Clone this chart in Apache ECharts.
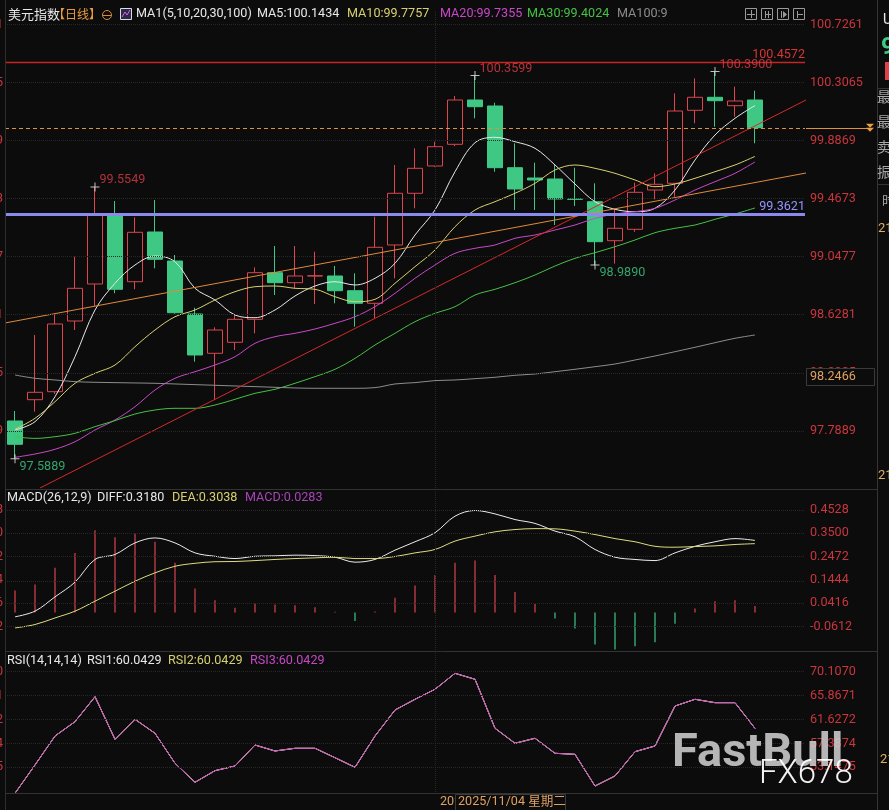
<!DOCTYPE html>
<html>
<head>
<meta charset="utf-8">
<script src="https://cdn.jsdelivr.net/npm/echarts@6/dist/echarts.min.js"></script>
<style>
html,body{margin:0;padding:0;background:#0c0c0c;}
#chart{width:889px;height:810px;}
</style>
</head>
<body>
<div id="chart"></div>
<script>
// ---- daily bars: US Dollar Index ----
const dates = ['2025/10/03','2025/10/06','2025/10/07','2025/10/08','2025/10/09','2025/10/10','2025/10/13','2025/10/14','2025/10/15','2025/10/16',
  '2025/10/17','2025/10/20','2025/10/21','2025/10/22','2025/10/23','2025/10/24','2025/10/27','2025/10/28','2025/10/29','2025/10/30',
  '2025/10/31','2025/11/03','2025/11/04','2025/11/05','2025/11/06','2025/11/07','2025/11/10','2025/11/11','2025/11/12','2025/11/13',
  '2025/11/14','2025/11/17','2025/11/18','2025/11/19','2025/11/20','2025/11/21','2025/11/24','2025/11/25'];
const opens = [97.8613,98.0154,98.0733,98.5847,98.8524,99.3566,98.8690,99.2286,99.0188,98.6354,
  98.3511,98.4306,98.5970,98.9342,98.8618,98.9100,98.9103,98.8039,98.7128,99.1346,
  99.5086,99.7061,99.8630,100.1835,100.1401,99.6938,99.6192,99.6120,99.4673,99.4478,
  99.1656,99.2481,99.5324,99.5809,100.1090,100.2031,100.1423,100.1835];
const highs = [97.9337,98.4835,98.6317,99.0499,99.5549,99.4529,99.3349,99.4601,99.0622,98.6809,
  98.5391,98.6332,98.9732,99.1273,99.1273,99.0861,98.9826,98.9298,99.3393,99.7133,
  99.8341,99.8818,100.2125,100.3599,100.1640,99.8703,99.7299,99.7184,99.6938,99.5809,
  99.3928,99.5852,99.6532,100.2320,100.3405,100.3900,100.2797,100.2508];
const lows = [97.5889,97.9286,98.0567,98.5196,98.6932,98.7851,98.8141,98.9660,98.6380,98.2903,
  98.0132,98.3750,98.4957,98.7728,98.8213,98.7077,98.7128,98.5435,98.6043,98.8936,
  99.4000,99.7000,99.8500,100.0511,99.6648,99.3877,99.3877,99.2792,99.4167,98.9890,
  99.0000,99.2300,99.4652,99.4840,100.0150,99.9904,100.0627,99.8703];
const closes = [97.6927,98.0689,98.5630,98.8213,99.3566,98.8141,99.2264,99.0311,98.6448,98.3388,
  98.5196,98.5970,98.9342,98.8618,98.9103,98.9124,98.8039,98.7128,99.1179,99.5086,
  99.6894,99.8457,100.1835,100.1351,99.6938,99.5397,99.6048,99.4673,99.4650,99.1584,
  99.2554,99.5158,99.5737,100.1039,100.2031,100.1785,100.1763,99.9831];

// ---- moving averages ----
const ma5 = [97.7962,97.8562,98.0371,98.3265,98.6643,98.8575,98.9899,99.0550,99.0137,98.8213,
  98.7367,98.6281,98.6086,98.6643,98.7656,98.8379,98.8690,98.8452,98.8936,99.0022,
  99.2069,99.3877,99.6648,99.8746,99.9137,99.8818,99.8341,99.7133,99.5758,99.4478,
  99.3928,99.3754,99.4000,99.5324,99.7495,99.9303,100.0511,100.1434];
const ma10 = [97.8012,97.8808,98.0009,98.1341,98.2064,98.2664,98.3988,98.5196,98.6158,98.6643,
  98.7367,98.7967,98.8329,98.8379,98.8213,98.8141,98.7605,98.7244,98.7418,98.8575,
  98.9779,99.0984,99.2669,99.3877,99.4478,99.5086,99.5809,99.6771,99.7133,99.6894,
  99.6532,99.6048,99.5563,99.5758,99.6170,99.6648,99.7133,99.7757];
const ma20 = [97.5987,97.6226,97.6566,97.7115,97.7962,97.8685,97.9648,98.0856,98.1702,98.2180,
  98.2664,98.3265,98.4234,98.4712,98.4957,98.5269,98.5681,98.6158,98.6884,98.7851,
  98.8936,98.9899,99.0745,99.1107,99.1346,99.1831,99.2069,99.2431,99.2792,99.3277,
  99.3588,99.3754,99.4000,99.4601,99.5324,99.5925,99.6532,99.7355];
const ma30 = [97.7477,97.7356,97.7477,97.7723,97.8206,97.8640,97.9120,97.9409,97.9530,97.9530,
  97.9770,98.0182,98.0616,98.0905,98.1341,98.1823,98.2354,98.3146,98.4111,98.4957,
  98.5797,98.6400,98.6884,98.7728,98.8141,98.8618,98.9175,98.9826,99.0383,99.0790,
  99.1224,99.1708,99.2235,99.2554,99.2792,99.3204,99.3588,99.4024];
const ma100 = [98.1941,98.1702,98.1581,98.1461,98.1413,98.1389,98.1365,98.1341,98.1292,98.1244,
  98.1196,98.1148,98.1099,98.1051,98.1003,98.0979,98.0979,98.0979,98.1027,98.1292,
  98.1389,98.1534,98.1581,98.1678,98.1775,98.1920,98.2013,98.2180,98.2354,98.2542,
  98.2736,98.3026,98.3316,98.3627,98.3945,98.4278,98.4596,98.4835];

// ---- MACD(26,12,9) ----
const diff = [-0.019,0.006,0.069,0.134,0.234,0.256,0.307,0.329,0.307,0.263,
  0.248,0.238,0.248,0.250,0.253,0.251,0.244,0.222,0.234,0.275,
  0.312,0.352,0.425,0.450,0.435,0.410,0.393,0.359,0.334,0.278,
  0.244,0.234,0.229,0.263,0.292,0.312,0.326,0.3180];
const dea = [-0.068,-0.053,-0.024,0.006,0.050,0.094,0.138,0.175,0.204,0.217,
  0.224,0.225,0.229,0.234,0.238,0.241,0.244,0.238,0.238,0.247,
  0.263,0.278,0.315,0.337,0.356,0.366,0.370,0.369,0.359,0.344,
  0.326,0.312,0.292,0.288,0.291,0.294,0.300,0.3038];
const macdHist = [0.097,0.1235,0.197,0.263,0.363,0.332,0.348,0.312,0.219,0.106,
  0.054,0.021,0.040,0.035,0.032,0.023,0.003,-0.038,0.004,0.065,
  0.119,0.165,0.219,0.229,0.165,0.090,0.038,-0.026,-0.071,-0.141,
  -0.163,-0.149,-0.131,-0.050,0.018,0.050,0.054,0.0283];

// ---- RSI(14,14,14) ----
const rsi = [48.54,53.56,58.70,61.24,65.67,58.11,61.66,59.18,53.86,50.49,
  52.55,53.38,57.10,56.04,56.52,56.52,54.85,53.15,58.70,63.31,
  65.21,66.99,69.82,68.76,60.07,57.41,58.30,55.63,55.45,49.83,
  51.61,55.92,56.93,64.02,65.21,64.61,64.61,60.0429];

// ---- axis ticks ----
const priceTicks = [100.7261,100.3065,99.8869,99.4673,99.0477,98.6281,98.2085,97.7889];
const macdTicks = [0.4528,0.3500,0.2472,0.1444,0.0416,-0.0612];
const rsiTicks = [70.1070,65.8671,61.6272,57.3874,53.1475];

// ---- drawn objects: [barIndex, price] endpoints ----
const trendRed = [[1.25,97.3766],[39.55,100.1835]];
const trendOrange = [[-0.5,98.5703],[39.55,99.6554]];
const resistanceLevel = 100.4572;
const supportLevel = 99.3621;
const markedHighs = [4,23,35];
const markedLows = [0,29];
const monthStart = '2025/11/03';
const cursorPrice = 98.2466;
const cursorDate = '2025/11/04';

// ---- style ----
const RED = '#dc4450', GREEN = '#3ec884', AXIS_RED = '#c8363e';
const FONT = 'Roboto, "Noto Sans CJK SC", sans-serif';
const CJK = '"Noto Sans CJK SC", sans-serif';
const FS = 12.6;
const GRID_LINE = {color:'#262626', type:'dotted', width:1};
const SLOTS = 40;
const axisDates = dates.concat(Array(SLOTS - dates.length).fill(''));

const chart = echarts.init(document.getElementById('chart'), null, {renderer:'canvas'});

function catAxis(grid) {
  return {type:'category', gridIndex:grid, data:axisDates, boundaryGap:true,
    axisLine:{show:false}, axisTick:{show:false}, axisLabel:{show:false}, splitLine:{show:false}};
}
function valAxis(grid, pos, min, max, ticks, digits, margin) {
  return {type:'value', gridIndex:grid, position:pos, min, max, scale:true,
    axisLine:{show:false}, axisTick:{show:false}, splitLine:{show:false},
    axisLabel:{customValues:ticks, formatter:v => v.toFixed(digits), color:AXIS_RED,
      fontSize:FS, fontFamily:FONT, margin, showMinLabel:true, showMaxLabel:true}};
}
function gridLines(ticks) {
  return ticks.map(v => ({yAxis:v, lineStyle:GRID_LINE, label:{show:false}}));
}
const monthLine = {xAxis:monthStart, lineStyle:GRID_LINE, label:{show:false}};

const maSeries = [
  ['MA5', ma5, '#e8e8e8'], ['MA10', ma10, '#d8d070'], ['MA20', ma20, '#c848c8'],
  ['MA30', ma30, '#46c046'], ['MA100', ma100, '#8c8c8c']
].map(([name, data, color]) => ({
  name, type:'line', xAxisIndex:0, yAxisIndex:0, data, smooth:0.35, showSymbol:false,
  lineStyle:{color, width:1}, silent:true, z:3
}));

const plusSymbol = 'path://M0,4H9V5H0Z M4,0H5V9H4Z';
const gridBase = {left:5, width:800, outerBoundsMode:'none', containLabel:false};

const option = {
  backgroundColor:'#0c0c0c',
  animation:false,
  grid:[
    Object.assign({top:10, height:478}, gridBase),
    Object.assign({top:490, height:160}, gridBase),
    Object.assign({top:652, height:142}, gridBase)
  ],
  xAxis:[
    catAxis(0),
    {type:'value', gridIndex:0, min:-0.5, max:SLOTS - 0.5, show:false},
    catAxis(1),
    catAxis(2)
  ],
  yAxis:[
    valAxis(0, 'right', 97.3766, 100.8346, priceTicks, 4, 5),
    valAxis(0, 'left', 97.3766, 100.8346, priceTicks, 4, 2),
    valAxis(1, 'right', -0.1654, 0.5404, macdTicks, 4, 5),
    valAxis(1, 'left', -0.1654, 0.5404, macdTicks, 4, 2),
    valAxis(2, 'right', 48.411, 73.602, rsiTicks, 4, 5),
    valAxis(2, 'left', 48.411, 73.602, rsiTicks, 4, 2)
  ],
  series:[
    {
      name:'美元指数', type:'candlestick', xAxisIndex:0, yAxisIndex:0, barWidth:16,
      data: dates.map((d, i) => [opens[i], closes[i], lows[i], highs[i]]),
      itemStyle:{color:'#0c0c0c', color0:GREEN, borderColor:RED, borderColor0:GREEN, borderWidth:1},
      silent:true, z:2,
      markLine:{
        silent:true, symbol:['none','none'], animation:false,
        data: gridLines(priceTicks).concat([
          monthLine,
          {yAxis:resistanceLevel, lineStyle:{color:'#c82424', width:1.3, type:'solid'},
            label:{show:true, position:'insideEndTop', formatter:resistanceLevel.toFixed(4),
              color:'#d83434', fontSize:FS, fontFamily:FONT, distance:[0,1]}},
          {yAxis:supportLevel, lineStyle:{color:'#8a8aee', width:3, type:'solid'},
            label:{show:true, position:'insideEndTop', formatter:supportLevel.toFixed(4),
              color:'#9494ff', fontSize:FS, fontFamily:FONT, distance:[0,1]}},
          {yAxis:closes[closes.length - 1], lineStyle:{color:'#e0903e', width:1, type:[4,3]},
            label:{show:false}}
        ])
      }
    },
    ...maSeries,
    {type:'line', xAxisIndex:1, yAxisIndex:0, data:trendRed, showSymbol:false, silent:true,
      lineStyle:{color:'#d42a2a', width:1}, z:4},
    {type:'line', xAxisIndex:1, yAxisIndex:0, data:trendOrange, showSymbol:false, silent:true,
      lineStyle:{color:'#e08a3c', width:1}, z:4},
    {type:'scatter', xAxisIndex:0, yAxisIndex:0, symbol:plusSymbol, symbolSize:9, silent:true, z:6,
      itemStyle:{color:'#f0f0f0'},
      data: markedHighs.map(i => [i, highs[i]]),
      label:{show:true, position:'right', distance:0, offset:[0,-7], color:'#dc3c46',
        fontSize:FS, fontFamily:FONT, formatter:p => p.value[1].toFixed(4)}},
    {type:'scatter', xAxisIndex:0, yAxisIndex:0, symbol:plusSymbol, symbolSize:9, silent:true, z:6,
      itemStyle:{color:'#f0f0f0'},
      data: markedLows.map(i => [i, lows[i]]),
      label:{show:true, position:'right', distance:0, offset:[0,8], color:'#3ec884',
        fontSize:FS, fontFamily:FONT, formatter:p => p.value[1].toFixed(4)}},
    {name:'MACD', type:'bar', xAxisIndex:2, yAxisIndex:2, barWidth:1.2, silent:true,
      data: macdHist.map(v => ({value:v, itemStyle:{color: v >= 0 ? RED : GREEN}})),
      markLine:{silent:true, symbol:['none','none'], animation:false,
        data: gridLines(macdTicks).concat([monthLine])}},
    {name:'DIFF', type:'line', xAxisIndex:2, yAxisIndex:2, data:diff, smooth:0.35, showSymbol:false,
      silent:true, lineStyle:{color:'#ececec', width:1}},
    {name:'DEA', type:'line', xAxisIndex:2, yAxisIndex:2, data:dea, smooth:0.35, showSymbol:false,
      silent:true, lineStyle:{color:'#dcdc80', width:1}},
    {name:'RSI1', type:'line', xAxisIndex:3, yAxisIndex:4, data:rsi, showSymbol:false, silent:true,
      lineStyle:{color:'#e8e8e8', width:1}},
    {name:'RSI2', type:'line', xAxisIndex:3, yAxisIndex:4, data:rsi, showSymbol:false, silent:true,
      lineStyle:{color:'#dcdc80', width:1}},
    {name:'RSI3', type:'line', xAxisIndex:3, yAxisIndex:4, data:rsi, showSymbol:false, silent:true,
      lineStyle:{color:'#c648c6', width:1},
      markLine:{silent:true, symbol:['none','none'], animation:false,
        data: gridLines(rsiTicks).concat([monthLine])}}
  ]
};
chart.setOption(option);

// ---- text, panel frames and overlays ----
function txt(x, y, text, fill, size, extra) {
  return {type:'text', x, y, z:100, silent:true,
    style:Object.assign({text, fill, fontSize:size || FS, fontFamily:FONT,
      verticalAlign:'middle', align:'left'}, extra || {})};
}
function hline(x1, x2, y, stroke) {
  return {type:'line', z:90, silent:true, shape:{x1, y1:y, x2, y2:y}, style:{stroke, lineWidth:1}};
}
function vline(x, y1, y2, stroke) {
  return {type:'line', z:90, silent:true, shape:{x1:x, y1, x2:x, y2}, style:{stroke, lineWidth:1}};
}
const last = a => a[a.length - 1];
const f4 = v => v.toFixed(4);

const yClose = chart.convertToPixel({yAxisIndex:0}, last(closes));
const yCursor = chart.convertToPixel({yAxisIndex:0}, cursorPrice);
const xCursor = chart.convertToPixel({xAxisIndex:0}, cursorDate);
const weekday = ['星期日','星期一','星期二','星期三','星期四','星期五','星期六'][new Date(cursorDate).getDay()];

const g = [
  // frames
  vline(5.5, 0, 810, '#2e2e2e'),
  vline(877.5, 0, 810, '#353535'),
  hline(5, 878, 489.5, '#333333'),
  hline(5, 878, 651.5, '#333333'),
  hline(5, 878, 793.5, '#333333'),

  // price-panel legend
  txt(8, 14, '美元指数', '#e8e8e8', 13, {fontFamily:CJK}),
  txt(53, 14, '【日线】', '#e89a40', 12, {fontFamily:CJK}),
  {type:'circle', z:100, silent:true, shape:{cx:107, cy:15, r:4.5}, style:{fill:'none', stroke:'#d88a3a', lineWidth:1}},
  hline(103, 111, 15.5, '#d88a3a'),
  {type:'rect', z:100, silent:true, shape:{x:120.5, y:8.5, width:11, height:11}, style:{fill:'#2a2a4a', stroke:'#dddddd', lineWidth:1}},
  {type:'polyline', z:101, silent:true, shape:{points:[[122,17],[125,12],[127,15],[130,10]]}, style:{stroke:'#e060e0', lineWidth:1, fill:'none'}},
  txt(136, 14, 'MA1(5,10,20,30,100)', '#e8e8e8'),
  txt(257, 14, 'MA5:' + f4(last(ma5)), '#e8e8e8'),
  txt(347, 14, 'MA10:' + f4(last(ma10)), '#d8d070'),
  txt(440, 14, 'MA20:' + f4(last(ma20)), '#c848c8'),
  txt(527, 14, 'MA30:' + f4(last(ma30)), '#46c046'),
  txt(617, 14, 'MA100:9', '#8c8c8c'),

  // toolbar icons
  ...[745, 761, 777, 793].map(x => ({type:'rect', z:100, silent:true,
    shape:{x:x + 0.5, y:8.5, width:11, height:11}, style:{fill:'none', stroke:'#9a9a9a', lineWidth:1}})),
  hline(747, 755, 14.5, '#9a9a9a'), vline(751.5, 10, 18, '#9a9a9a'),
  vline(765.5, 11, 18, '#9a9a9a'), vline(768.5, 11, 18, '#9a9a9a'), hline(765, 771, 14.5, '#9a9a9a'),
  vline(781.5, 11, 18, '#9a9a9a'), {type:'polygon', z:101, silent:true, shape:{points:[[783,11],[787,14.5],[783,18]]}, style:{fill:'#9a9a9a'}},
  vline(797.5, 11, 18, '#9a9a9a'), hline(798, 803, 14.5, '#9a9a9a'),

  // last-close price marker in the axis strip
  hline(806, 872, Math.round(yClose) + 0.5, '#e0903e'),
  {type:'polygon', z:101, silent:true, shape:{points:[[866,yClose - 4],[874,yClose - 4],[870,yClose]]}, style:{fill:'#e8a040'}},
  {type:'polygon', z:101, silent:true, shape:{points:[[866,yClose],[874,yClose],[870,yClose + 4]]}, style:{fill:'#e8a040'}},

  // cursor readouts
  {type:'rect', z:100, silent:true, shape:{x:806.5, y:Math.round(yCursor) + 0.5, width:68, height:17},
    style:{fill:'#0c0c0c', stroke:'#3a3a3a', lineWidth:1}},
  txt(810, yCursor + 9, f4(cursorPrice), '#e0a060'),
  txt(440, 802, '2025/11', '#e0a060'),
  {type:'rect', z:100, silent:true, shape:{x:Math.round(xCursor) + 0.5, y:794.5, width:110, height:16},
    style:{fill:'#0c0c0c', stroke:'#3a3a3a', lineWidth:1}},
  txt(xCursor + 3, 802, cursorDate + ' ' + weekday, '#e0a060'),

  // MACD legend
  txt(7, 498, 'MACD(26,12,9)', '#e8e8e8'),
  txt(97, 498, 'DIFF:' + f4(last(diff)), '#e8e8e8'),
  txt(172, 498, 'DEA:' + f4(last(dea)), '#d8d070'),
  txt(245, 498, 'MACD:' + f4(last(macdHist)), '#a844b8'),

  // RSI legend
  txt(7, 661, 'RSI(14,14,14)', '#e8e8e8'),
  txt(87, 661, 'RSI1:' + f4(last(rsi)), '#e8e8e8'),
  txt(168, 661, 'RSI2:' + f4(last(rsi)), '#d8d070'),
  txt(250, 661, 'RSI3:' + f4(last(rsi)), '#c648c6'),

  // quote side panel (cut by the window edge)
  txt(883, 20, 'U', '#e8e8e8', 14),
  txt(881, 48, '9', '#3ec884', 24, {fontWeight:'bold'}),
  {type:'rect', z:100, silent:true, shape:{x:885, y:62, width:6, height:18}, style:{fill:'#e0404a'}},
  hline(878, 889, 88.5, '#333333'),
  txt(877, 97, '最', '#a8a8a8', 14, {fontFamily:CJK}),
  txt(877, 122, '最', '#a8a8a8', 14, {fontFamily:CJK}),
  txt(877, 147, '卖', '#a8a8a8', 14, {fontFamily:CJK}),
  txt(877, 172, '振', '#a8a8a8', 14, {fontFamily:CJK}),
  hline(878, 889, 184.5, '#333333'),
  txt(882, 200, '时', '#a8a8a8', 13, {fontFamily:CJK}),
  txt(878, 229, '21', '#e0b060', 13),
  txt(878, 476, '21', '#e0b060', 13),
  txt(880, 760, '21', '#e0b060', 13),

  // watermark
  txt(672, 754, 'FastBull', 'rgba(205,205,205,0.88)', 47, {fontWeight:'bold', fontFamily:'Roboto, sans-serif'}),
  txt(759, 775, 'FX678', 'rgba(255,255,255,0.95)', 33, {fontWeight:300, fontFamily:'Roboto, sans-serif'})
];
chart.setOption({graphic:{elements:g}});
</script>
</body>
</html>
